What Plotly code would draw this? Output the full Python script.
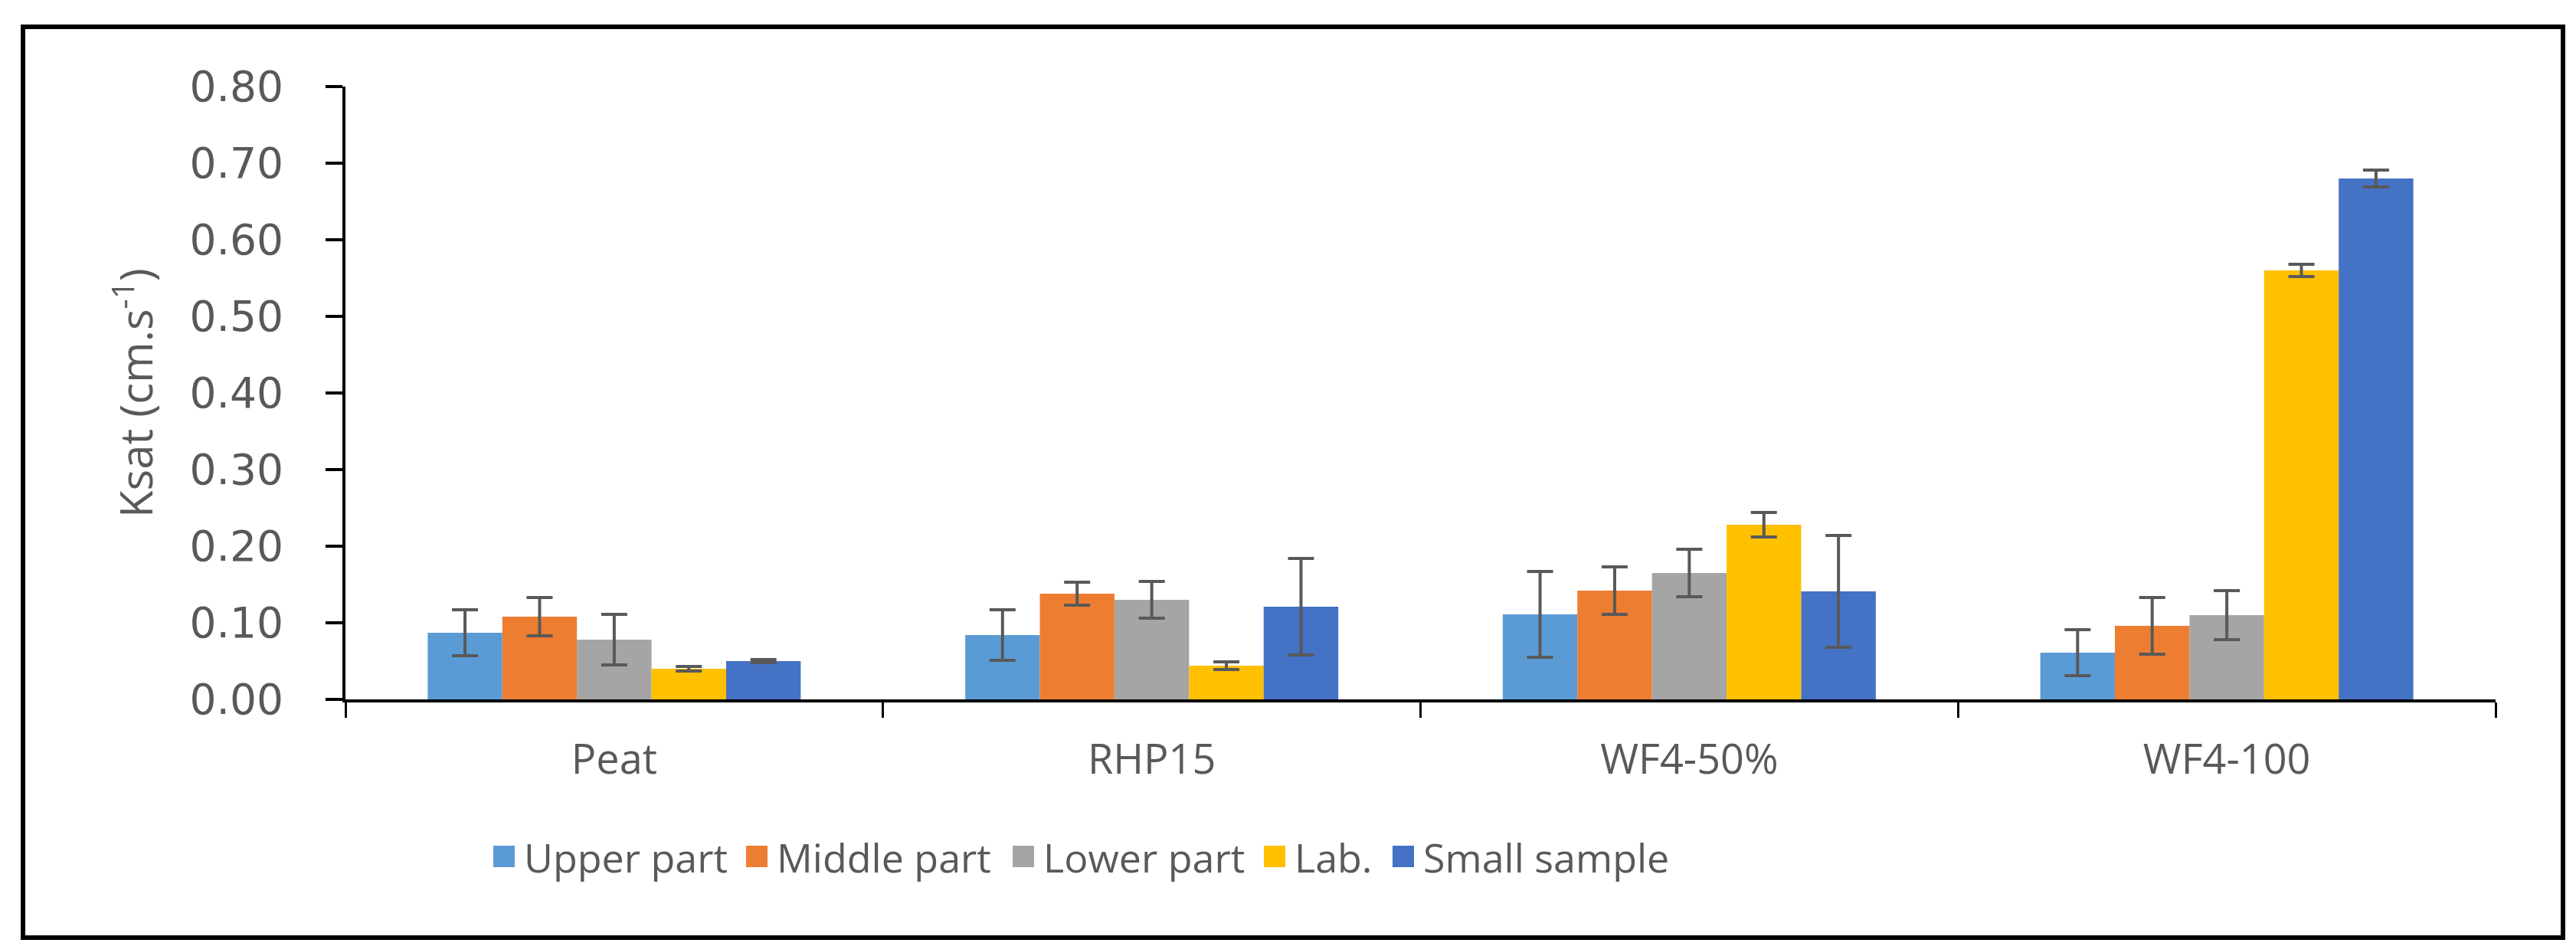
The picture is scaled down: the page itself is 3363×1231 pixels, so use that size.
import plotly.graph_objects as go

# ---------------- data ----------------
categories = ["Peat", "RHP15", "WF4-50%", "WF4-100"]
series_names = ["Upper part", "Middle part", "Lower part", "Lab.", "Small sample"]

upper_part = [0.087, 0.084, 0.111, 0.061]
middle_part = [0.108, 0.138, 0.142, 0.096]
lower_part = [0.078, 0.130, 0.165, 0.110]
lab = [0.040, 0.044, 0.228, 0.560]
small_sample = [0.050, 0.121, 0.141, 0.680]

upper_err = [0.030, 0.033, 0.056, 0.030]
middle_err = [0.025, 0.015, 0.031, 0.037]
lower_err = [0.033, 0.024, 0.031, 0.032]
lab_err = [0.003, 0.005, 0.016, 0.008]
small_err = [0.002, 0.063, 0.073, 0.011]

y_ticks = [0.0, 0.1, 0.2, 0.3, 0.4, 0.5, 0.6, 0.7, 0.8]
y_title = "Ksat (cm.s<sup>-1</sup>)"

# ---------------- style ----------------
colors = ["#5B9BD5", "#ED7D31", "#A5A5A5", "#FFC000", "#4472C4"]
values = [upper_part, middle_part, lower_part, lab, small_sample]
errors = [upper_err, middle_err, lower_err, lab_err, small_err]

W, H = 3363, 1231
L, R, T, B = 443, 3250, 105, 905  # plot area in pixels
TXT = "#595959"
FONT = "Open Sans"


def px_x(p):
    return (p - L) / (R - L)


def px_y(p):
    return (B - p) / (B - T)


fig = go.Figure()
for name, vals, errs, col in zip(series_names, values, errors, colors):
    fig.add_trace(go.Bar(
        x=categories, y=vals, name=name,
        marker=dict(color=col, line=dict(width=0)),
        error_y=dict(type="data", array=errs, visible=True,
                     color="#595959", thickness=4, width=17),
        showlegend=False,
    ))

# manual legend (large squares like the original), packed tightly
legend_left = [636, 966, 1314, 1642, 1810]
legend_cy = 1110
sq = 28
shapes = []
annotations = []
for name, col, lx in zip(series_names, colors, legend_left):
    shapes.append(dict(type="rect", xref="paper", yref="paper",
                       x0=px_x(lx), x1=px_x(lx + sq),
                       y0=px_y(legend_cy + sq / 2), y1=px_y(legend_cy - sq / 2),
                       fillcolor=col, line=dict(width=0)))
    annotations.append(dict(xref="paper", yref="paper", x=px_x(lx + sq + 10),
                            y=px_y(legend_cy), text=name, showarrow=False,
                            xanchor="left", yanchor="middle",
                            font=dict(family=FONT, size=52, color=TXT)))

# outer border
shapes.append(dict(type="rect", xref="paper", yref="paper",
                   x0=px_x(22), x1=px_x(3338), y0=px_y(1216), y1=px_y(27),
                   line=dict(color="black", width=6), fillcolor="rgba(0,0,0,0)",
                   layer="above"))

fig.update_layout(
    width=W, height=H,
    margin=dict(l=L, r=W - R, t=T, b=H - B, pad=0),
    paper_bgcolor="white", plot_bgcolor="white",
    barmode="group", bargap=0.306, bargroupgap=0,
    shapes=shapes, annotations=annotations,
    showlegend=False,
    xaxis=dict(
        type="category", showline=True, linecolor="black", linewidth=4,
        ticks="outside", tickson="boundaries", ticklen=20, tickwidth=3,
        tickcolor="black", showgrid=False, zeroline=False,
        tickfont=dict(family=FONT, size=54, color=TXT),
        ticklabelstandoff=28,
    ),
    yaxis=dict(
        range=[0, 0.8], tickvals=y_ticks, tickformat=".2f",
        showline=True, linecolor="black", linewidth=4,
        ticks="outside", ticklen=22, tickwidth=4, tickcolor="black",
        showgrid=False, zeroline=False,
        tickfont=dict(family="DejaVu Sans", size=55, color=TXT),
        ticklabelstandoff=44,
        title=dict(text=y_title, standoff=30,
                   font=dict(family=FONT, size=58, color=TXT)),
    ),
)

fig.write_html("out.html")
